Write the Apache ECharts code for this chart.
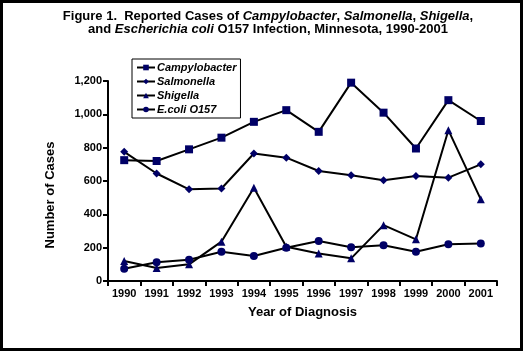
<!DOCTYPE html>
<html>
<head>
<meta charset="utf-8">
<script src="https://cdn.jsdelivr.net/npm/echarts@6/dist/echarts.min.js"></script>
<style>
  html, body { margin: 0; padding: 0; background: #fff; }
  #chart { width: 525px; height: 352px; }
</style>
</head>
<body>
<div id="chart"></div>
<script>
// 年份与各病原体病例数
var years = ['1990', '1991', '1992', '1993', '1994', '1995', '1996', '1997', '1998', '1999', '2000', '2001'];
var campylobacter = [725, 720, 790, 860, 955, 1025, 895, 1190, 1010, 795, 1085, 960];
var salmonella = [775, 645, 550, 555, 765, 740, 660, 635, 605, 630, 620, 700];
var shigella = [120, 78, 100, 236, 560, 205, 165, 136, 335, 250, 905, 490];
var ecoli = [74, 112, 128, 175, 150, 200, 240, 202, 215, 176, 220, 225];
var seriesNames = ['Campylobacter', 'Salmonella', 'Shigella', 'E.coli O157'];

var FONT = '"Liberation Sans", Arial, sans-serif';
var chart = echarts.init(document.getElementById('chart'));

function makeSeries(name, data, symbol, size) {
  return {
    name: name,
    type: 'line',
    data: data,
    symbol: symbol,
    symbolSize: size,
    showSymbol: true,
    lineStyle: { color: '#000000', width: 2 },
    itemStyle: { color: '#000066', borderColor: '#000066', borderWidth: 0 },
    emphasis: { disabled: true },
    z: 3
  };
}

var option = {
  animation: false,
  backgroundColor: '#ffffff',
  title: {
    left: 263,
    top: 5,
    textAlign: 'center',
    text: '{b|Figure 1.  Reported Cases of }{i|Campylobacter}{b|, }{i|Salmonella}{b|, }{i|Shigella}{b|,}\n' +
          '{b|and }{i|Escherichia coli}{b| O157 Infection, Minnesota, 1990-2001}',
    textStyle: {
      rich: {
        b: { fontFamily: FONT, fontSize: 13, fontWeight: 'bold', color: '#000', lineHeight: 13 },
        i: { fontFamily: FONT, fontSize: 13, fontWeight: 'bold', fontStyle: 'italic', color: '#000', lineHeight: 13 }
      }
    }
  },
  legend: {
    orient: 'vertical',
    left: 132,
    top: 59,
    data: seriesNames,
    itemWidth: 18,
    itemHeight: 7,
    itemGap: 3,
    padding: [3, 4, 3, 4],
    borderColor: '#000',
    borderWidth: 1,
    backgroundColor: '#fff',
    selectedMode: false,
    textStyle: {
      fontFamily: FONT,
      fontSize: 11,
      fontWeight: 'bold',
      fontStyle: 'italic',
      color: '#000',
      padding: [0, 0, 0, -3]
    }
  },
  grid: {
    left: 108,
    right: 28,
    top: 81,
    bottom: 71
  },
  xAxis: {
    type: 'category',
    data: years,
    boundaryGap: true,
    name: 'Year of Diagnosis',
    nameLocation: 'middle',
    nameGap: 25,
    nameTextStyle: { fontFamily: FONT, fontSize: 13, fontWeight: 'bold', color: '#000' },
    axisLine: { lineStyle: { color: '#000', width: 2 } },
    axisTick: { show: true, length: 5, lineStyle: { color: '#000', width: 2 } },
    axisLabel: { fontFamily: FONT, fontSize: 11, fontWeight: 'bold', color: '#000', margin: 7 },
    splitLine: { show: false }
  },
  yAxis: {
    type: 'value',
    min: 0,
    max: 1200,
    interval: 200,
    name: 'Number of Cases',
    nameLocation: 'middle',
    nameGap: 51,
    nameTextStyle: { fontFamily: FONT, fontSize: 13, fontWeight: 'bold', color: '#000', padding: [0, 28, 0, 0] },
    axisLine: { show: true, lineStyle: { color: '#000', width: 2 } },
    axisTick: { show: true, length: 5, lineStyle: { color: '#000', width: 2 } },
    axisLabel: {
      fontFamily: FONT, fontSize: 11, fontWeight: 'bold', color: '#000', margin: 6,
      formatter: function (v) { return v.toLocaleString('en-US'); }
    },
    splitLine: { show: false }
  },
  graphic: [{
    type: 'rect',
    shape: { x: 1.5, y: 1.5, width: 520, height: 348 },
    style: { fill: 'none', stroke: '#000', lineWidth: 3 },
    silent: true,
    z: 100
  }],
  series: [
    makeSeries('Campylobacter', campylobacter, 'rect', 8),
    makeSeries('Salmonella', salmonella, 'diamond', 8),
    makeSeries('Shigella', shigella, 'triangle', 8),
    makeSeries('E.coli O157', ecoli, 'circle', 8)
  ]
};

chart.setOption(option);
</script>
</body>
</html>
